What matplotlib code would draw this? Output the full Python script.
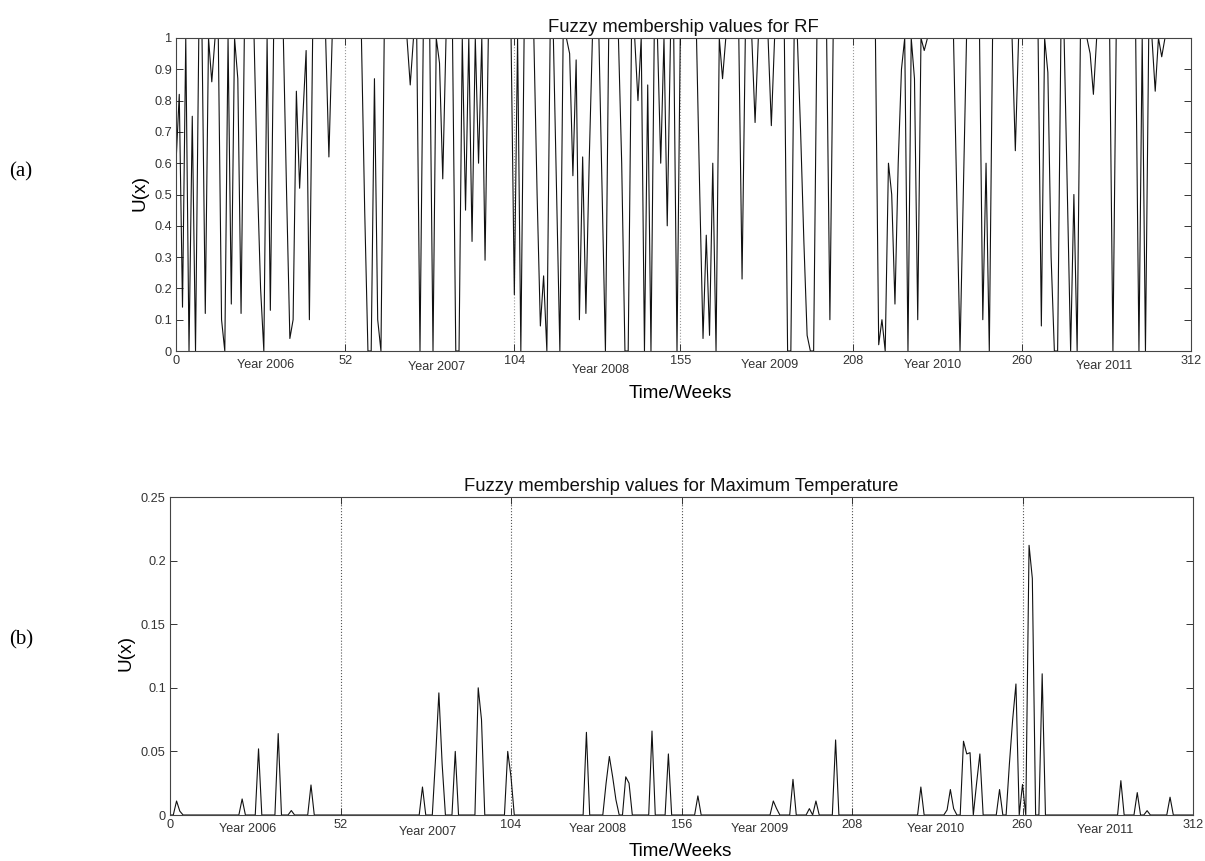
import matplotlib
matplotlib.use('Agg')
import matplotlib.pyplot as plt
import numpy as np

# fuzzy membership of weekly rainfall, weeks 0..312
rf_membership = [
    0.6, 0.82, 0.14, 1, 0, 0.75, 0, 1, 1, 0.12, 1, 0.86, 1,
    1, 0.1, 0, 1, 0.15, 1, 0.87, 0.12, 1, 1, 1, 1, 0.55,
    0.2, 0, 1, 0.13, 1, 1, 1, 1, 0.5, 0.04, 0.1, 0.83, 0.52,
    0.75, 0.96, 0.1, 1, 1, 1, 1, 1, 0.62, 1, 1, 1, 1,
    1, 1, 1, 1, 1, 1, 0.45, 0, 0, 0.87, 0.1, 0, 1,
    1, 1, 1, 1, 1, 1, 1, 0.85, 1, 1, 0, 1, 1,
    1, 0, 1, 0.92, 0.55, 1, 1, 1, 0, 0, 1, 0.45, 1,
    0.35, 1, 0.6, 1, 0.29, 1, 1, 1, 1, 1, 1, 1, 1,
    0.18, 1, 0, 1, 1, 1, 1, 0.5, 0.08, 0.24, 0, 1, 1,
    0.5, 0, 1, 1, 0.95, 0.56, 0.93, 0.1, 0.62, 0.12, 0.6, 1, 1,
    1, 0.5, 0, 1, 1, 1, 1, 0.6, 0, 0, 1, 1, 0.8,
    1, 0, 0.85, 0, 1, 1, 0.6, 1, 0.4, 1, 1, 0, 1,
    1, 1, 1, 1, 1, 0.5, 0.04, 0.37, 0.05, 0.6, 0, 1, 0.87,
    1, 1, 1, 1, 1, 0.23, 1, 1, 1, 0.73, 1, 1, 1,
    1, 0.72, 1, 1, 1, 1, 0, 0, 1, 1, 0.7, 0.35, 0.05,
    0, 0, 1, 1, 1, 1, 0.1, 1, 1, 1, 1, 1, 1,
    1, 1, 1, 1, 1, 1, 1, 1, 0.02, 0.1, 0, 0.6, 0.5,
    0.15, 0.6, 0.9, 1, 0, 1, 0.87, 0.1, 1, 0.96, 1, 1, 1,
    1, 1, 1, 1, 1, 1, 0.5, 0, 0.5, 1, 1, 1, 1,
    1, 0.1, 0.6, 0, 1, 1, 1, 1, 1, 1, 1, 0.64, 1,
    1, 1, 1, 1, 1, 1, 0.08, 1, 0.89, 0.3, 0, 0, 1,
    1, 0.5, 0, 0.5, 0, 1, 1, 1, 0.95, 0.82, 1, 1, 1,
    1, 1, 0, 1, 1, 1, 1, 1, 1, 1, 0, 1, 0,
    1, 1, 0.83, 1, 0.94, 1, 1, 1, 1, 1, 1, 1, 1,
    1,
]

# maximum temperature membership: only the non-zero weeks
tmax_weeks = [2, 3, 22, 27, 33, 37, 43, 77, 81, 82, 83, 87, 94, 95, 103, 104,
              127, 133, 134, 135, 136, 139, 140, 147, 152, 161, 184, 185, 190,
              195, 197, 203, 229, 237, 238, 239, 242, 243, 244, 246, 247, 253,
              256, 257, 258, 260, 262, 263, 266, 290, 295, 298, 305]
tmax_values = [0.011, 0.003, 0.0126, 0.052, 0.064, 0.0035, 0.0236, 0.022, 0.045,
               0.096, 0.04, 0.05, 0.1, 0.075, 0.05, 0.03, 0.065, 0.025, 0.046,
               0.03, 0.012, 0.03, 0.025, 0.066, 0.048, 0.015, 0.011, 0.005, 0.028,
               0.005, 0.011, 0.059, 0.022, 0.004, 0.02, 0.005, 0.058, 0.048, 0.049,
               0.025, 0.048, 0.02, 0.04, 0.075, 0.103, 0.024, 0.212, 0.186, 0.111,
               0.027, 0.0176, 0.0034, 0.014]

rf_xticks = [0, 52, 104, 155, 208, 260, 312]
tmax_xticks = [0, 52, 104, 156, 208, 260, 312]
year_labels = ['Year 2006', 'Year 2007', 'Year 2008', 'Year 2009', 'Year 2010', 'Year 2011']

weeks = np.arange(len(rf_membership))
tmax_membership = np.zeros(len(weeks))
tmax_membership[tmax_weeks] = tmax_values

W, H = 1205, 861
plt.rcParams['font.family'] = ['Liberation Sans', 'DejaVu Sans']
fig = plt.figure(figsize=(W / 100, H / 100), dpi=100)


def px_axes(left, top, right, bottom):
    return fig.add_axes([left / W, 1 - bottom / H, (right - left) / W, (bottom - top) / H])


def style_axes(ax, xticks, yticks, ylabels):
    ax.set_xlim(0, 312)
    ax.set_xticks(xticks)
    ax.set_xticklabels([str(t) for t in xticks])
    ax.set_yticks(yticks)
    ax.set_yticklabels(ylabels)
    ax.tick_params(direction='in', top=True, right=True, length=5, width=0.7,
                   labelsize=9.2, colors='#333333', pad=3)
    for s in ax.spines.values():
        s.set_color('#444444')
        s.set_linewidth(0.8)


def year_text(ax, positions, drops):
    for lab, xpos, d in zip(year_labels, positions, drops):
        ax.annotate(lab, xy=(xpos, 0), xycoords=('data', 'axes fraction'),
                    xytext=(0, -d * 0.72), textcoords='offset points',
                    ha='center', va='center', fontsize=9.1, color='#333333')


# (a) rainfall
ax1 = px_axes(176, 38, 1191, 351)
for xv in rf_xticks[1:-1]:
    ax1.axvline(xv, color='#999999', ls=':', lw=0.8, zorder=1)
ax1.plot(weeks, rf_membership, color='#111111', lw=0.8, zorder=2)
ax1.set_ylim(0, 1)
yt1 = [round(0.1 * i, 1) for i in range(11)]
style_axes(ax1, rf_xticks, yt1, ['0'] + [f'{v:g}' for v in yt1[1:-1]] + ['1'])
ax1.set_title('Fuzzy membership values for RF', fontsize=13.3, pad=4, color='#111111')
year_text(ax1, [27.4, 80.2, 130.6, 182.6, 232.7, 285.3], [14, 16, 19, 14, 14, 15])

# (b) maximum temperature
ax2 = px_axes(170, 497, 1193, 815)
for xv in tmax_xticks[1:-1]:
    ax2.axvline(xv, color='#555555', ls=':', lw=0.8, zorder=1)
ax2.plot(weeks, tmax_membership, color='#111111', lw=0.8, zorder=2)
ax2.set_ylim(0, 0.25)
yt2 = [0, 0.05, 0.1, 0.15, 0.2, 0.25]
style_axes(ax2, tmax_xticks, yt2, ['0', '0.05', '0.1', '0.15', '0.2', '0.25'])
ax2.set_title('Fuzzy membership values for Maximum Temperature', fontsize=13.3, pad=4,
              color='#111111')
year_text(ax2, [23.8, 78.7, 130.5, 179.9, 233.6, 285.1], [14, 17, 14, 14, 14, 15])

# axis labels and panel letters
fig.text(680 / W, 1 - 394 / H, 'Time/Weeks', ha='center', va='center', fontsize=13.6)
fig.text(680 / W, 1 - 852 / H, 'Time/Weeks', ha='center', va='center', fontsize=13.6)
fig.text(140 / W, 1 - 193 / H, 'U(x)', ha='center', va='center', rotation=90, fontsize=13.6)
fig.text(126 / W, 1 - 653 / H, 'U(x)', ha='center', va='center', rotation=90, fontsize=13.6)
fig.text(21 / W, 1 - 172 / H, '(a)', ha='center', va='center', fontsize=15,
         family=['Liberation Serif', 'DejaVu Serif'])
fig.text(21 / W, 1 - 640 / H, '(b)', ha='center', va='center', fontsize=15,
         family=['Liberation Serif', 'DejaVu Serif'])

fig.savefig('out.png', dpi=100)
